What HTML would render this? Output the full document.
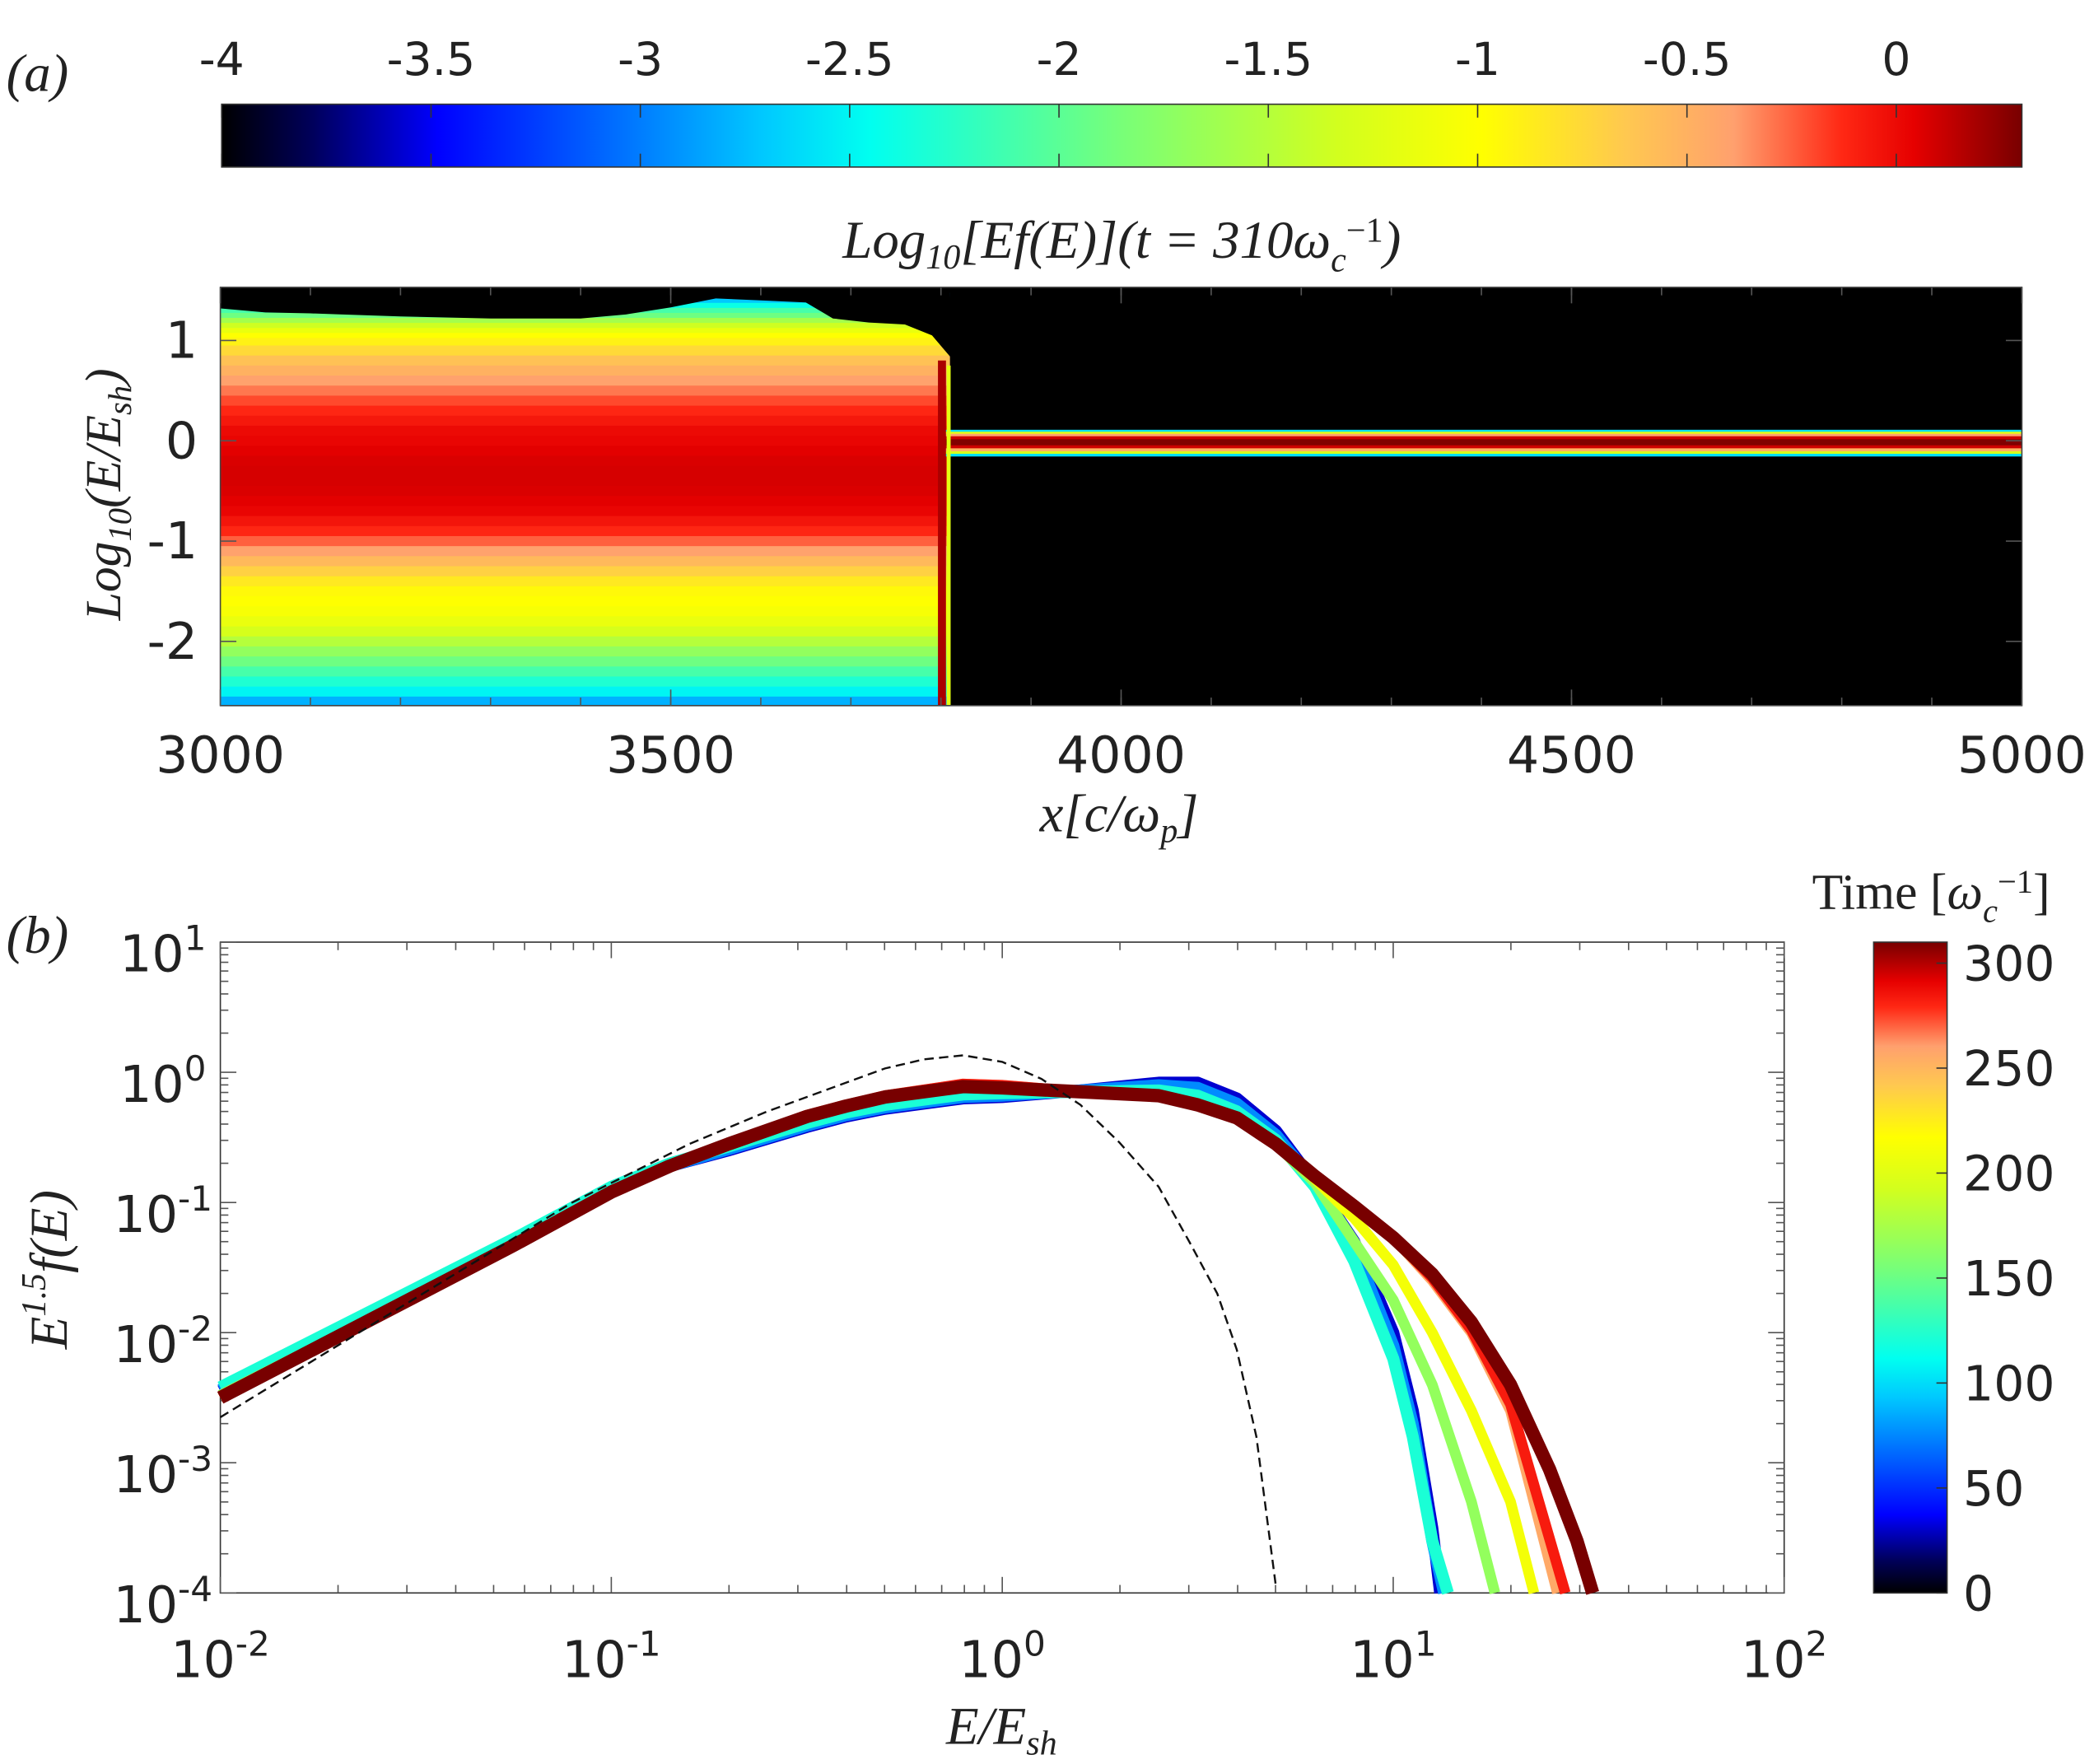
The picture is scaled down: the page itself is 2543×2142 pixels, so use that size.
<!DOCTYPE html>
<html><head><meta charset="utf-8"><style>
html,body{margin:0;padding:0;background:#fff;}
svg{display:block;}
.tk{font-family:"DejaVu Sans","Liberation Sans",sans-serif;fill:#222;}
.mt{font-family:"Liberation Serif",serif;font-style:italic;fill:#222;}
</style></head><body>
<svg id="fig" width="2543" height="2142" viewBox="0 0 1568 1320" preserveAspectRatio="none" xmlns="http://www.w3.org/2000/svg">
<defs>
<linearGradient id="cbA" x1="0" x2="1" y1="0" y2="0"></linearGradient>
<linearGradient id="cbB" x1="0" x2="0" y1="1" y2="0"></linearGradient>
</defs>
<g id="root"></g>
</svg>
<script>
// ---- panel (a) heatmap data ----
const heatLogE = [1.50,1.45,1.40,1.35,1.30,1.25,1.20,1.15,1.10,1.05,1.00,0.90,0.80,0.70,0.60,0.50,0.40,0.30,0.20,0.10,0.00,-0.10,-0.20,-0.30,-0.40,-0.50,-0.60,-0.70,-0.80,-0.90,-1.00,-1.10,-1.20,-1.30,-1.40,-1.50,-1.60,-1.70,-1.80,-1.90,-2.00,-2.10,-2.20,-2.30,-2.40,-2.50,-2.60];
const heatVal  = [-4.5,-3.0,-2.7,-2.4,-2.1,-1.9,-1.6,-1.35,-1.15,-1.0,-0.9,-0.75,-0.6,-0.5,-0.4,-0.3,-0.2,-0.12,-0.06,0.0,0.02,0.05,0.07,0.08,0.08,0.07,0.05,0.02,-0.05,-0.12,-0.25,-0.4,-0.55,-0.7,-0.85,-0.95,-1.0,-1.05,-1.15,-1.3,-1.5,-1.7,-1.9,-2.1,-2.3,-2.5,-2.8];
const edgeX   = [3000,3050,3100,3200,3300,3400,3450,3500,3550,3600,3650,3680,3720,3760,3790,3812];
const edgeTop = [1.32,1.28,1.27,1.24,1.22,1.22,1.26,1.33,1.42,1.40,1.38,1.22,1.18,1.16,1.05,0.82];
const bandLogE = [0.10,0.08,0.06,0.03,0.00,-0.03,-0.06,-0.09,-0.12,-0.14];
const bandVal  = [-2.6,-1.2,-0.4,0.1,0.28,0.28,0.1,-0.5,-1.3,-2.6];
const shockX = 3810;
const aXTicks = [3000,3500,4000,4500,5000];
const aYTicks = [1,0,-1,-2];
const cbATicks = [-4,-3.5,-3,-2.5,-2,-1.5,-1,-0.5,0];
// ---- panel (b) spectra data ----
const seriesTimes = [0,50,100,150,200,250,280,310];
const specLogE = [
 [-2,-1.5,-1.25,-1,-0.85,-0.7,-0.5,-0.4,-0.3,-0.1,0,0.2,0.4,0.5,0.6,0.7,0.8,0.9,1.0,1.05,1.1,1.12],
 [-2,-1.5,-1.25,-1,-0.85,-0.7,-0.5,-0.4,-0.3,-0.1,0,0.2,0.4,0.5,0.6,0.7,0.8,0.9,1.0,1.05,1.1,1.13],
 [-2,-1.5,-1.25,-1,-0.85,-0.7,-0.5,-0.4,-0.3,-0.1,0,0.2,0.4,0.5,0.6,0.7,0.8,0.9,1.0,1.05,1.1,1.14],
 [-2,-1.5,-1.25,-1,-0.85,-0.7,-0.5,-0.4,-0.3,-0.1,0,0.2,0.4,0.5,0.6,0.7,0.8,0.9,1.0,1.1,1.2,1.26],
 [-2,-1.5,-1.25,-1,-0.85,-0.7,-0.5,-0.4,-0.3,-0.1,0,0.2,0.4,0.5,0.6,0.7,0.8,0.9,1.0,1.1,1.2,1.3,1.36],
 [-2,-1.5,-1.25,-1,-0.85,-0.7,-0.5,-0.4,-0.3,-0.1,0,0.2,0.4,0.5,0.6,0.7,0.8,0.9,1.0,1.1,1.2,1.3,1.42],
 [-2,-1.5,-1.25,-1,-0.85,-0.7,-0.5,-0.4,-0.3,-0.1,0,0.2,0.4,0.5,0.6,0.7,0.8,0.9,1.0,1.1,1.2,1.3,1.44],
 [-2,-1.5,-1.25,-1,-0.85,-0.7,-0.5,-0.4,-0.3,-0.1,0,0.2,0.4,0.5,0.6,0.7,0.8,0.9,1.0,1.1,1.2,1.3,1.4,1.47,1.51]
];
const specLogY = [
 [-2.45,-1.68,-1.3,-0.9,-0.72,-0.6,-0.42,-0.34,-0.28,-0.2,-0.19,-0.14,-0.08,-0.08,-0.2,-0.45,-0.85,-1.3,-2.0,-2.6,-3.5,-4],
 [-2.44,-1.68,-1.3,-0.9,-0.72,-0.59,-0.41,-0.33,-0.27,-0.19,-0.18,-0.14,-0.1,-0.12,-0.24,-0.48,-0.85,-1.35,-2.1,-2.7,-3.6,-4],
 [-2.42,-1.66,-1.28,-0.88,-0.7,-0.57,-0.39,-0.31,-0.25,-0.17,-0.16,-0.15,-0.14,-0.18,-0.3,-0.52,-0.88,-1.45,-2.2,-2.8,-3.6,-4],
 [-2.48,-1.72,-1.33,-0.92,-0.72,-0.55,-0.34,-0.26,-0.19,-0.11,-0.12,-0.15,-0.18,-0.24,-0.35,-0.55,-0.85,-1.3,-1.75,-2.4,-3.3,-4],
 [-2.5,-1.72,-1.33,-0.92,-0.72,-0.55,-0.34,-0.26,-0.19,-0.1,-0.11,-0.15,-0.18,-0.24,-0.35,-0.55,-0.82,-1.12,-1.48,-2.0,-2.6,-3.3,-4],
 [-2.5,-1.72,-1.33,-0.92,-0.72,-0.55,-0.33,-0.25,-0.18,-0.09,-0.1,-0.15,-0.18,-0.24,-0.35,-0.55,-0.8,-1.03,-1.27,-1.6,-2.0,-2.6,-4],
 [-2.5,-1.72,-1.33,-0.92,-0.72,-0.55,-0.33,-0.25,-0.18,-0.09,-0.1,-0.15,-0.18,-0.24,-0.35,-0.55,-0.8,-1.03,-1.27,-1.58,-1.98,-2.55,-4],
 [-2.5,-1.72,-1.33,-0.92,-0.72,-0.55,-0.34,-0.26,-0.19,-0.11,-0.12,-0.15,-0.18,-0.25,-0.35,-0.55,-0.8,-1.03,-1.27,-1.55,-1.92,-2.4,-3.05,-3.6,-4]
];
const maxwLogE = [-2,-1.7,-1.4,-1.1,-0.8,-0.6,-0.4,-0.3,-0.2,-0.1,0,0.1,0.2,0.3,0.4,0.48,0.55,0.6,0.65,0.7];
const maxwLogY = [-2.65,-2.1,-1.55,-1.0,-0.55,-0.3,-0.08,0.03,0.1,0.13,0.08,-0.05,-0.25,-0.54,-0.88,-1.31,-1.7,-2.13,-2.8,-3.95];
const bXTicks = [-2,-1,0,1,2];
const bYTicks = [1,0,-1,-2,-3,-4];
const cbBTicks = [0,50,100,150,200,250,300];

const NS="http://www.w3.org/2000/svg";
const root=document.getElementById('root');
function mk(tag,attrs,parent){const e=document.createElementNS(NS,tag);for(const k in attrs)e.setAttribute(k,attrs[k]);(parent||root).appendChild(e);return e;}

const stops=[[0,[0,0,0]],[0.05,[0,0,90]],[0.12,[0,0,255]],[0.3,[0,200,255]],[0.36,[0,255,240]],[0.5,[120,255,120]],[0.62,[210,255,30]],[0.7,[255,255,0]],[0.78,[255,200,80]],[0.84,[255,160,110]],[0.9,[255,40,20]],[0.94,[230,0,0]],[1,[120,0,0]]];
function jet(f){f=Math.max(0,Math.min(1,f));for(let i=1;i<stops.length;i++){if(f<=stops[i][0]){const a=stops[i-1],b=stops[i];const t=(f-a[0])/(b[0]-a[0]);const c=a[1].map((v,j)=>Math.round(v+(b[1][j]-v)*t));return `rgb(${c})`;}}return 'rgb(120,0,0)';}
function fillGrad(id){const g=document.getElementById(id);stops.forEach(s=>{const st=document.createElementNS(NS,'stop');st.setAttribute('offset',s[0]);st.setAttribute('stop-color',`rgb(${s[1]})`);g.appendChild(st);});}
fillGrad('cbA');fillGrad('cbB');

// ===== Panel (a) =====
const A={x0:165,x1:1514,y0:215,y1:528,xmin:3000,xmax:5000,ymin:-2.64,ymax:1.53,cmin:-4,cmax:0.3};
const ax=v=>A.x0+(v-A.xmin)/(A.xmax-A.xmin)*(A.x1-A.x0);
const ay=v=>A.y1-(v-A.ymin)/(A.ymax-A.ymin)*(A.y1-A.y0);
const cA=v=>jet((v-A.cmin)/(A.cmax-A.cmin));

let t=mk('text',{x:28,y:68,'font-size':40,class:'mt','text-anchor':'middle'});t.textContent='(a)';

const cbx0=166,cbx1=1514;
let r=mk('rect',{x:cbx0,y:78,width:cbx1-cbx0,height:47,fill:'url(#cbA)',stroke:'#333','stroke-width':1});

const cbAx=v=>cbx0+(v-A.cmin)/(A.cmax-A.cmin)*(cbx1-cbx0);
cbATicks.forEach(v=>{const x=cbAx(v);mk('line',{x1:x,x2:x,y1:78,y2:88,stroke:'#333','stroke-width':1});mk('line',{x1:x,x2:x,y1:115,y2:125,stroke:'#333','stroke-width':1});
 const e=mk('text',{x:x,y:56,'font-size':34,class:'tk','text-anchor':'middle'});e.textContent=String(v);
 });
t=mk('text',{x:840,y:193,'font-size':40,class:'mt','text-anchor':'middle'});
t.innerHTML='Log<tspan font-size="26" dy="8">10</tspan><tspan dy="-8">[Ef(E)](t = 310ω</tspan><tspan font-size="26" dy="10">c</tspan><tspan font-size="26" dy="-22" font-style="normal">−1</tspan><tspan dy="12">)</tspan>';

r=mk('rect',{x:A.x0,y:A.y0,width:A.x1-A.x0,height:A.y1-A.y0,fill:'#000'});

const hm=mk('g',{});
for(let i=0;i<heatLogE.length;i++){
 const hi=i===0?heatLogE[0]:(heatLogE[i]+heatLogE[i-1])/2, lo=i+1<heatLogE.length?(heatLogE[i]+heatLogE[i+1])/2:A.ymin;
 if(heatVal[i]<A.cmin)continue;
 const c=mk('rect',{x:A.x0,y:ay(hi),width:ax(shockX)-A.x0,height:ay(lo)-ay(hi)+0.5,fill:cA(heatVal[i])},hm);
 
}
let pts=[ax(edgeX[0])+','+A.y0];
edgeX.forEach((x,i)=>pts.push(ax(x).toFixed(1)+','+ay(edgeTop[i]).toFixed(1)));
pts.push(ax(shockX)+','+A.y0);
let mask=mk('polygon',{points:pts.join(' '),fill:'#000'},hm);

for(let i=0;i<bandLogE.length;i++){
 const hi=i===0?bandLogE[0]+0.01:(bandLogE[i]+bandLogE[i-1])/2, lo=i+1<bandLogE.length?(bandLogE[i]+bandLogE[i+1])/2:bandLogE[i]-0.01;
 const c=mk('rect',{x:ax(shockX)-4,y:ay(hi),width:A.x1-ax(shockX)+4,height:ay(lo)-ay(hi)+0.5,fill:cA(bandVal[i])},hm);
 
}
let sl=mk('line',{x1:ax(shockX)-6,x2:ax(shockX)-6,y1:ay(0.8),y2:A.y1,stroke:'rgb(170,0,0)','stroke-width':6});

mk('line',{x1:ax(shockX)-1,x2:ax(shockX)-1,y1:ay(0.75),y2:A.y1,stroke:cA(-1.2),'stroke-width':3});
r=mk('rect',{x:A.x0,y:A.y0,width:A.x1-A.x0,height:A.y1-A.y0,fill:'none',stroke:'#444','stroke-width':1});

aXTicks.forEach(v=>{const x=ax(v);mk('line',{x1:x,x2:x,y1:A.y1,y2:A.y1-12,stroke:'#555','stroke-width':1});mk('line',{x1:x,x2:x,y1:A.y0,y2:A.y0+12,stroke:'#555','stroke-width':1});
 const e=mk('text',{x:x,y:578,'font-size':38,class:'tk','text-anchor':'middle'});e.textContent=String(v);
 });
for(let v=3100;v<5000;v+=100){const x=ax(v);mk('line',{x1:x,x2:x,y1:A.y1,y2:A.y1-6,stroke:'#555'});mk('line',{x1:x,x2:x,y1:A.y0,y2:A.y0+6,stroke:'#555'});}
aYTicks.forEach(v=>{const y=ay(v);mk('line',{x1:A.x0,x2:A.x0+12,y1:y,y2:y,stroke:'#555'});mk('line',{x1:A.x1,x2:A.x1-12,y1:y,y2:y,stroke:'#555'});
 const e=mk('text',{x:148,y:y+13,'font-size':38,class:'tk','text-anchor':'end'});e.textContent=String(v);
 });
t=mk('text',{x:838,y:622,'font-size':40,class:'mt','text-anchor':'middle'});
t.innerHTML='x[c/ω<tspan font-size="26" dy="8">p</tspan><tspan dy="-8">]</tspan>';

t=mk('text',{x:0,y:0,'font-size':38,class:'mt','text-anchor':'middle',transform:'translate(90,370) rotate(-90)'});
t.innerHTML='Log<tspan font-size="25" dy="8">10</tspan><tspan dy="-8">(E/E</tspan><tspan font-size="25" dy="8">sh</tspan><tspan dy="-8">)</tspan>';


// ===== Panel (b) =====
const B={x0:165,x1:1336,y0:705,y1:1192,xmin:-2,xmax:2,ymin:-4,ymax:1};
const bx=v=>B.x0+(v-B.xmin)/(B.xmax-B.xmin)*(B.x1-B.x0);
const by=v=>B.y1-(v-B.ymin)/(B.ymax-B.ymin)*(B.y1-B.y0);
t=mk('text',{x:28,y:713,'font-size':40,class:'mt','text-anchor':'middle'});t.textContent='(b)';

r=mk('rect',{x:B.x0,y:B.y0,width:B.x1-B.x0,height:B.y1-B.y0,fill:'#fff',stroke:'#333','stroke-width':1});

for(let d=-2;d<2;d++)for(let k=2;k<10;k++){const x=bx(d+Math.log10(k));mk('line',{x1:x,x2:x,y1:B.y1,y2:B.y1-6,stroke:'#555'});mk('line',{x1:x,x2:x,y1:B.y0,y2:B.y0+6,stroke:'#555'});}
for(let d=-4;d<1;d++)for(let k=2;k<10;k++){const y=by(d+Math.log10(k));mk('line',{x1:B.x0,x2:B.x0+6,y1:y,y2:y,stroke:'#555'});mk('line',{x1:B.x1,x2:B.x1-6,y1:y,y2:y,stroke:'#555'});}
bXTicks.forEach(v=>{const x=bx(v);mk('line',{x1:x,x2:x,y1:B.y1,y2:B.y1-12,stroke:'#555'});mk('line',{x1:x,x2:x,y1:B.y0,y2:B.y0+12,stroke:'#555'});
 const e=mk('text',{x:x,y:1255,'font-size':38,class:'tk','text-anchor':'middle'});e.innerHTML='10<tspan font-size="26" dy="-16">'+v+'</tspan>';
 });
bYTicks.forEach(v=>{const y=by(v);mk('line',{x1:B.x0,x2:B.x0+12,y1:y,y2:y,stroke:'#555'});mk('line',{x1:B.x1,x2:B.x1-12,y1:y,y2:y,stroke:'#555'});
 const e=mk('text',{x:122,y:y+22,'font-size':38,class:'tk','text-anchor':'middle'});e.innerHTML='10<tspan font-size="26" dy="-16">'+v+'</tspan>';
 });
const tmax=310;
const curves=mk('g',{});

seriesTimes.forEach((tt,s)=>{
 const d=specLogE[s].map((e,i)=>(i?'L':'M')+bx(e).toFixed(1)+','+by(specLogY[s][i]).toFixed(1)).join(' ');
 const p=mk('path',{d:d,fill:'none',stroke:jet(0.1+0.9*tt/tmax),'stroke-width':s===7?10:(s<3?9:8),'stroke-linejoin':'round','stroke-linecap':'butt'},curves);
 
});
const md=maxwLogE.map((e,i)=>(i?'L':'M')+bx(e).toFixed(1)+','+by(maxwLogY[i]).toFixed(1)).join(' ');
let mp=mk('path',{d:md,fill:'none',stroke:'#111','stroke-width':1.5,'stroke-dasharray':'7,4'});

t=mk('text',{x:750,y:1305,'font-size':40,class:'mt','text-anchor':'middle'});
t.innerHTML='E/E<tspan font-size="26" dy="8">sh</tspan>';

t=mk('text',{x:0,y:0,'font-size':40,class:'mt','text-anchor':'middle',transform:'translate(50,950) rotate(-90)'});
t.innerHTML='E<tspan font-size="26" dy="-16">1.5</tspan><tspan dy="16">f(E)</tspan>';

const cb={x0:1403,x1:1458,y0:705,y1:1192};
r=mk('rect',{x:cb.x0,y:cb.y0,width:cb.x1-cb.x0,height:cb.y1-cb.y0,fill:'url(#cbB)',stroke:'#333'});

const cbBy=v=>cb.y1-v/tmax*(cb.y1-cb.y0);
cbBTicks.forEach(v=>{const y=cbBy(v);mk('line',{x1:cb.x1-8,x2:cb.x1,y1:y,y2:y,stroke:'#333'});
 const e=mk('text',{x:1470,y:y+13,'font-size':36,class:'tk'});e.textContent=String(v);
 });
t=mk('text',{x:1446,y:680,'font-size':38,class:'mt','text-anchor':'middle'});
t.innerHTML='<tspan font-style="normal">Time [</tspan>ω<tspan font-size="25" dy="10">c</tspan><tspan font-size="25" dy="-22" font-style="normal">−1</tspan><tspan dy="12" font-style="normal">]</tspan>';

</script>
</body></html>
